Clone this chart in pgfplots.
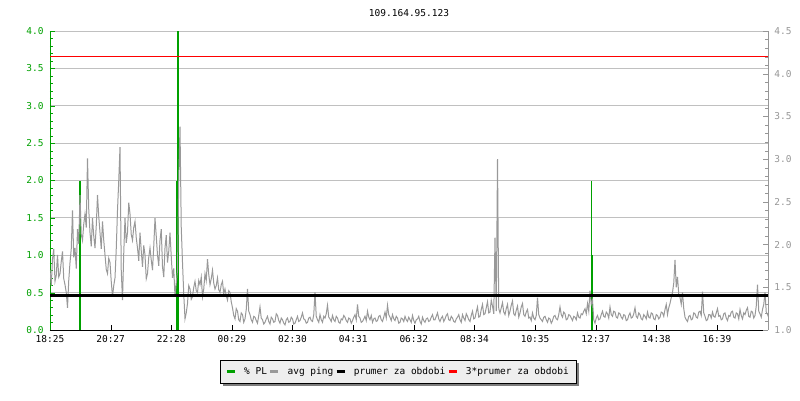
\documentclass[border=0pt]{standalone}
\usepackage{fontspec}
\setmainfont[Scale=0.95]{DejaVu Sans Mono}
\usepackage{pgfplots}
\pgfplotsset{compat=1.18}
\usepackage{pgfplotstable}
\usetikzlibrary{backgrounds}

\definecolor{plgreen}{RGB}{0,160,0}
\definecolor{pinggray}{RGB}{153,153,153}
\definecolor{gridgray}{RGB}{192,192,192}
\definecolor{rightgray}{RGB}{150,150,150}
\definecolor{legbg}{RGB}{238,238,238}
\definecolor{shadowgray}{RGB}{125,125,125}

% avg ping, one sample every 2.5 minutes from 18:25 (right axis units)
\pgfplotstableread[row sep=\\]{
ping\\
1.70\\ 1.52\\ 1.83\\ 1.95\\ 1.57\\ 1.64\\ 1.88\\ 1.62\\ 1.66\\ 1.80\\ 1.92\\ 1.60\\ 1.53\\ 1.44\\ 1.26\\ 1.58\\ 1.79\\ 1.95\\ 2.40\\ 1.85\\ 1.96\\ 1.72\\ 2.18\\ 2.01\\
2.58\\ 2.12\\ 2.05\\ 2.24\\ 2.36\\ 2.20\\ 3.01\\ 2.41\\ 2.14\\ 1.98\\ 2.31\\ 2.10\\ 1.96\\ 2.22\\ 2.58\\ 2.33\\ 2.14\\ 1.95\\ 2.27\\ 2.05\\ 1.88\\ 1.71\\ 1.66\\ 1.84\\
1.79\\ 1.57\\ 1.39\\ 1.52\\ 1.61\\ 1.95\\ 2.40\\ 2.75\\ 3.14\\ 1.70\\ 1.35\\ 1.90\\ 2.31\\ 2.02\\ 2.14\\ 2.49\\ 2.36\\ 2.12\\ 2.05\\ 2.20\\ 2.27\\ 2.08\\ 1.96\\ 1.81\\
2.14\\ 1.93\\ 1.74\\ 1.99\\ 1.88\\ 1.60\\ 1.66\\ 1.85\\ 1.96\\ 1.82\\ 1.70\\ 1.98\\ 2.31\\ 2.10\\ 1.88\\ 1.75\\ 2.05\\ 2.18\\ 1.74\\ 1.62\\ 1.96\\ 2.11\\ 1.79\\ 1.92\\
2.14\\ 1.86\\ 1.61\\ 1.72\\ 1.39\\ 1.55\\ 1.70\\ 2.75\\ 3.38\\ 2.20\\ 1.79\\ 1.42\\ 1.13\\ 1.20\\ 1.31\\ 1.52\\ 1.48\\ 1.36\\ 1.39\\ 1.50\\ 1.57\\ 1.46\\ 1.44\\ 1.58\\
1.53\\ 1.62\\ 1.39\\ 1.48\\ 1.66\\ 1.58\\ 1.83\\ 1.65\\ 1.53\\ 1.60\\ 1.70\\ 1.55\\ 1.48\\ 1.52\\ 1.61\\ 1.47\\ 1.44\\ 1.53\\ 1.57\\ 1.42\\ 1.48\\ 1.40\\ 1.35\\ 1.46\\
1.44\\ 1.33\\ 1.26\\ 1.17\\ 1.13\\ 1.25\\ 1.22\\ 1.12\\ 1.10\\ 1.20\\ 1.18\\ 1.09\\ 1.13\\ 1.24\\ 1.48\\ 1.22\\ 1.18\\ 1.12\\ 1.09\\ 1.16\\ 1.15\\ 1.11\\ 1.08\\ 1.17\\
1.27\\ 1.14\\ 1.12\\ 1.07\\ 1.09\\ 1.13\\ 1.16\\ 1.10\\ 1.07\\ 1.15\\ 1.13\\ 1.09\\ 1.10\\ 1.19\\ 1.17\\ 1.11\\ 1.08\\ 1.14\\ 1.12\\ 1.08\\ 1.06\\ 1.12\\ 1.14\\ 1.09\\
1.10\\ 1.15\\ 1.13\\ 1.07\\ 1.08\\ 1.12\\ 1.16\\ 1.10\\ 1.11\\ 1.15\\ 1.20\\ 1.13\\ 1.12\\ 1.08\\ 1.09\\ 1.14\\ 1.15\\ 1.11\\ 1.10\\ 1.18\\ 1.44\\ 1.16\\ 1.12\\ 1.09\\
1.18\\ 1.12\\ 1.09\\ 1.16\\ 1.14\\ 1.19\\ 1.29\\ 1.15\\ 1.13\\ 1.10\\ 1.17\\ 1.12\\ 1.10\\ 1.16\\ 1.14\\ 1.09\\ 1.08\\ 1.13\\ 1.12\\ 1.17\\ 1.15\\ 1.11\\ 1.09\\ 1.14\\
1.13\\ 1.08\\ 1.11\\ 1.15\\ 1.18\\ 1.12\\ 1.30\\ 1.16\\ 1.14\\ 1.09\\ 1.10\\ 1.13\\ 1.16\\ 1.11\\ 1.22\\ 1.15\\ 1.12\\ 1.17\\ 1.09\\ 1.13\\ 1.14\\ 1.10\\ 1.11\\ 1.16\\
1.17\\ 1.12\\ 1.10\\ 1.15\\ 1.21\\ 1.14\\ 1.29\\ 1.18\\ 1.15\\ 1.11\\ 1.18\\ 1.13\\ 1.11\\ 1.16\\ 1.14\\ 1.08\\ 1.09\\ 1.14\\ 1.13\\ 1.10\\ 1.16\\ 1.12\\ 1.10\\ 1.15\\
1.12\\ 1.09\\ 1.17\\ 1.11\\ 1.08\\ 1.12\\ 1.13\\ 1.16\\ 1.10\\ 1.07\\ 1.15\\ 1.11\\ 1.09\\ 1.13\\ 1.14\\ 1.10\\ 1.11\\ 1.15\\ 1.18\\ 1.12\\ 1.12\\ 1.16\\ 1.20\\ 1.13\\
1.10\\ 1.14\\ 1.16\\ 1.10\\ 1.13\\ 1.17\\ 1.19\\ 1.12\\ 1.11\\ 1.16\\ 1.14\\ 1.10\\ 1.09\\ 1.13\\ 1.15\\ 1.18\\ 1.12\\ 1.09\\ 1.18\\ 1.14\\ 1.11\\ 1.19\\ 1.16\\ 1.12\\
1.10\\ 1.17\\ 1.22\\ 1.13\\ 1.14\\ 1.21\\ 1.27\\ 1.15\\ 1.16\\ 1.24\\ 1.30\\ 1.18\\ 1.19\\ 1.26\\ 1.33\\ 1.20\\ 1.21\\ 1.35\\ 1.28\\ 1.19\\ 2.08\\ 1.22\\ 3.00\\ 1.25\\
1.20\\ 1.26\\ 1.32\\ 1.21\\ 1.18\\ 1.25\\ 1.30\\ 1.17\\ 1.22\\ 1.29\\ 1.34\\ 1.19\\ 1.17\\ 1.23\\ 1.28\\ 1.15\\ 1.20\\ 1.27\\ 1.31\\ 1.18\\ 1.16\\ 1.21\\ 1.24\\ 1.14\\
1.15\\ 1.11\\ 1.20\\ 1.14\\ 1.12\\ 1.17\\ 1.38\\ 1.18\\ 1.14\\ 1.12\\ 1.10\\ 1.15\\ 1.16\\ 1.12\\ 1.09\\ 1.14\\ 1.13\\ 1.08\\ 1.11\\ 1.16\\ 1.17\\ 1.13\\ 1.12\\ 1.18\\
1.27\\ 1.18\\ 1.15\\ 1.21\\ 1.19\\ 1.12\\ 1.13\\ 1.18\\ 1.17\\ 1.14\\ 1.11\\ 1.16\\ 1.15\\ 1.12\\ 1.20\\ 1.15\\ 1.14\\ 1.19\\ 1.18\\ 1.22\\ 1.25\\ 1.19\\ 1.31\\ 1.22\\
1.46\\ 1.30\\ 1.35\\ 1.12\\ 1.08\\ 1.14\\ 1.17\\ 1.12\\ 1.13\\ 1.18\\ 1.22\\ 1.16\\ 1.15\\ 1.21\\ 1.19\\ 1.14\\ 1.27\\ 1.18\\ 1.16\\ 1.22\\ 1.21\\ 1.15\\ 1.14\\ 1.20\\
1.19\\ 1.15\\ 1.13\\ 1.18\\ 1.17\\ 1.11\\ 1.12\\ 1.17\\ 1.20\\ 1.14\\ 1.15\\ 1.19\\ 1.26\\ 1.16\\ 1.14\\ 1.20\\ 1.18\\ 1.13\\ 1.12\\ 1.18\\ 1.16\\ 1.13\\ 1.21\\ 1.15\\
1.14\\ 1.20\\ 1.19\\ 1.13\\ 1.12\\ 1.18\\ 1.17\\ 1.13\\ 1.15\\ 1.21\\ 1.20\\ 1.16\\ 1.24\\ 1.30\\ 1.18\\ 1.26\\ 1.31\\ 1.38\\ 1.44\\ 1.55\\ 1.82\\ 1.50\\ 1.62\\ 1.42\\
1.38\\ 1.30\\ 1.44\\ 1.25\\ 1.15\\ 1.12\\ 1.10\\ 1.16\\ 1.17\\ 1.12\\ 1.13\\ 1.20\\ 1.19\\ 1.15\\ 1.14\\ 1.21\\ 1.22\\ 1.17\\ 1.45\\ 1.20\\ 1.16\\ 1.11\\ 1.12\\ 1.18\\
1.18\\ 1.14\\ 1.21\\ 1.16\\ 1.15\\ 1.20\\ 1.25\\ 1.16\\ 1.17\\ 1.12\\ 1.13\\ 1.19\\ 1.20\\ 1.14\\ 1.11\\ 1.17\\ 1.16\\ 1.21\\ 1.22\\ 1.15\\ 1.14\\ 1.20\\ 1.19\\ 1.13\\
1.24\\ 1.17\\ 1.13\\ 1.20\\ 1.18\\ 1.23\\ 1.26\\ 1.16\\ 1.15\\ 1.22\\ 1.21\\ 1.14\\ 1.17\\ 1.28\\ 1.53\\ 1.22\\ 1.19\\ 1.15\\ 1.24\\ 1.30\\ 1.44\\ 1.21\\ 1.18\\ 1.15\\
}\pingtable

\pgfplotsset{
  base/.style={
    scale only axis, width=718pt, height=299pt,
    at={(50pt,70pt)}, anchor=south west,
    xmin=0, xmax=1436,
    tick align=inside, major tick length=5pt, minor tick length=3pt,
    minor y tick num=4,
    /pgf/number format/assume math mode=true,
    yticklabel style={/pgf/number format/fixed, /pgf/number format/fixed zerofill,
      /pgf/number format/precision=1},
  },
}

\begin{document}
\begin{tikzpicture}
\useasboundingbox (0pt,0pt) rectangle (800pt,400pt);

\begin{axis}[base,
  ymin=0, ymax=4, ytick={0,0.5,1,1.5,2,2.5,3,3.5,4},
  axis y line*=left, axis x line*=bottom,
  y axis line style={plgreen,-}, x axis line style={black,-},
  ytick style={plgreen}, xtick style={black},
  yticklabel style={text=plgreen, xshift=-3pt},
  xticklabel style={yshift=-2pt},
  ymajorgrids, grid style={gridgray, line width=0.8pt},
  xtick={0,121.27,242.55,363.82,485.09,606.36,727.64,848.91,970.18,1091.45,1212.73,1334},
  xticklabels={18:25,20:27,22:28,00:29,02:30,04:31,06:32,08:34,10:35,12:37,14:38,16:39},
  title={109.164.95.123}, title style={yshift=5pt},
]
  % % PL
  \addplot[ycomb, plgreen, line width=1.5pt, no markers]
    coordinates {(60,2.0) (254,2.0) (256,4.0) (1083,2.0) (1085,1.0)};
\end{axis}

\begin{axis}[base,
  ymin=1, ymax=4.5, ytick={1,1.5,2,2.5,3,3.5,4,4.5},
  axis y line*=right, axis x line=none,
  y axis line style={rightgray,-}, ytick style={rightgray},
  yticklabel style={text=rightgray, xshift=3pt},
  legend columns=4,
  legend image code/.code={\draw[#1, line width=2.5pt] (0pt,0pt) -- (8pt,0pt);},
  legend style={name=leg, at={(0.485,-0.1)}, anchor=north, draw=black, fill=legbg,
    inner xsep=5pt, inner ysep=5pt,
    /tikz/every odd column/.append style={column sep=6pt},
    nodes={inner xsep=2pt, inner ysep=2pt}},
]
  \addlegendimage{plgreen}
  \addlegendentry{\% PL}
  \addplot[pinggray, line width=1pt, no markers] table[x expr=\coordindex*2.5, y=ping] {\pingtable};
  \addlegendentry{avg ping}
  \addplot[black, line width=3pt, no markers] coordinates {(0,1.40) (1436,1.40)};
  \addlegendentry{prumer za obdobi}
  \addplot[red, line width=1.2pt, no markers] coordinates {(0,4.20) (1436,4.20)};
  \addlegendentry{3*prumer za obdobi}
\end{axis}

\begin{pgfonlayer}{background}
  \fill[shadowgray] ([xshift=3pt,yshift=-3pt]leg.south west)
    rectangle ([xshift=3pt,yshift=-3pt]leg.north east);
\end{pgfonlayer}
\end{tikzpicture}
\end{document}
